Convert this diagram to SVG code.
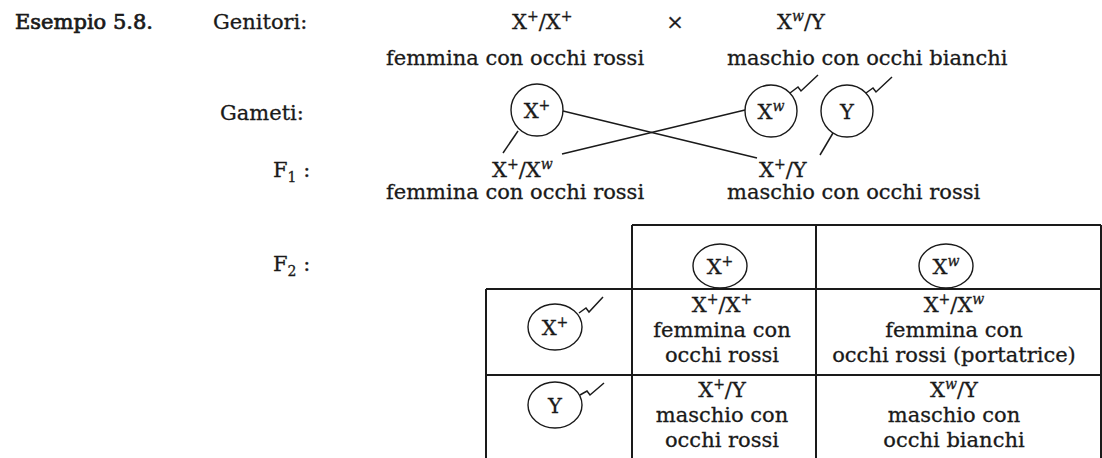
<svg xmlns="http://www.w3.org/2000/svg" width="1102" height="458" viewBox="0 0 1102 458">
<style>
text{font-family:"DejaVu Serif","Liberation Serif",serif;font-size:21px;fill:#1a1a1a;stroke:#1a1a1a;stroke-width:0.3}
.m{text-anchor:middle}
.b{stroke-width:0.7}
.sup{font-size:14px}
.it{font-style:italic}
.sub{font-size:14px}
.c{fill:none;stroke:#1a1a1a;stroke-width:1.4}
.ln{fill:none;stroke:#1a1a1a;stroke-width:1.5}
.tb{fill:none;stroke:#1a1a1a;stroke-width:2}
</style>
<rect width="1102" height="458" fill="#fff"/>
<g id="labels">
<text x="15" y="29" class="b">Esempio 5.8.</text>
<text x="213" y="29">Genitori:</text>
<text x="220" y="120">Gameti:</text>
<text x="273" y="177">F<tspan class="sub" dy="5">1</tspan><tspan dy="-5"> :</tspan></text>
<text x="273" y="271">F<tspan class="sub" dy="5">2</tspan><tspan dy="-5"> :</tspan></text>
</g>
<g id="parent-female">
<text x="512" y="29">X<tspan class="sup" dy="-8">+</tspan><tspan dy="8">/X</tspan><tspan class="sup" dy="-8">+</tspan></text>
<text x="386" y="65">femmina con occhi rossi</text>
</g>
<text id="cross" x="675" y="29" class="m">×</text>
<g id="parent-male">
<text x="777" y="29">X<tspan class="sup it" dy="-8">w</tspan><tspan dy="8">/Y</tspan></text>
<text x="727" y="65">maschio con occhi bianchi</text>
</g>
<g id="gamete-xplus">
<circle class="c" cx="537" cy="110" r="26"/>
<text x="537" y="118" class="m">X<tspan class="sup" dy="-8">+</tspan></text>
</g>
<g id="gamete-xw">
<circle class="c" cx="771" cy="111" r="26"/>
<text x="771" y="119" class="m">X<tspan class="sup it" dy="-8">w</tspan></text>
<path class="ln" d="M790,93 l8,-6 l3,4 l17,-16"/>
</g>
<g id="gamete-y">
<circle class="c" cx="847" cy="111" r="26"/>
<text x="847" y="119" class="m">Y</text>
<path class="ln" d="M866,93 l7,-5 l3,4 l16,-15"/>
</g>
<g id="f1-female">
<text x="492" y="177">X<tspan class="sup" dy="-8">+</tspan><tspan dy="8">/X</tspan><tspan class="sup it" dy="-8">w</tspan></text>
<text x="386" y="199">femmina con occhi rossi</text>
</g>
<g id="f1-male">
<text x="759" y="177">X<tspan class="sup" dy="-8">+</tspan><tspan dy="8">/Y</tspan></text>
<text x="727" y="199">maschio con occhi rossi</text>
</g>
<g id="connectors">
<line class="ln" x1="563" y1="111" x2="757" y2="158"/>
<line class="ln" x1="745" y1="110" x2="562" y2="154"/>
<line class="ln" x1="518" y1="131" x2="503" y2="153"/>
<line class="ln" x1="833" y1="133" x2="820" y2="155"/>
</g>
<g id="punnett">
<path class="tb" d="M632,225 H1101 M632,225 V458 M816,225 V458 M1101,225 V458 M486,289 H1101 M486,289 V458 M486,375 H1101"/>
<g id="h-xplus">
<ellipse class="c" cx="720" cy="266" rx="27" ry="22"/>
<text x="720" y="274" class="m">X<tspan class="sup" dy="-8">+</tspan></text>
</g>
<g id="h-xw">
<ellipse class="c" cx="946" cy="266" rx="27" ry="22"/>
<text x="946" y="274" class="m">X<tspan class="sup it" dy="-8">w</tspan></text>
</g>
<g id="r-xplus">
<ellipse class="c" cx="555" cy="327" rx="27" ry="23"/>
<text x="555" y="335" class="m">X<tspan class="sup" dy="-8">+</tspan></text>
<path class="ln" d="M579,313 l7,-5 l3,4 l14,-15"/>
</g>
<g id="r-y">
<ellipse class="c" cx="555" cy="405" rx="27" ry="23"/>
<text x="555" y="413" class="m">Y</text>
<path class="ln" d="M580,395 l7,-4 l3,4 l14,-12"/>
</g>
<g id="cell-11">
<text x="722" y="312" class="m">X<tspan class="sup" dy="-8">+</tspan><tspan dy="8">/X</tspan><tspan class="sup" dy="-8">+</tspan></text>
<text x="722" y="337" class="m">femmina con</text>
<text x="722" y="362" class="m">occhi rossi</text>
</g>
<g id="cell-12">
<text x="954" y="312" class="m">X<tspan class="sup" dy="-8">+</tspan><tspan dy="8">/X</tspan><tspan class="sup it" dy="-8">w</tspan></text>
<text x="954" y="337" class="m">femmina con</text>
<text x="954" y="362" class="m">occhi rossi (portatrice)</text>
</g>
<g id="cell-21">
<text x="722" y="397" class="m">X<tspan class="sup" dy="-8">+</tspan><tspan dy="8">/Y</tspan></text>
<text x="722" y="422" class="m">maschio con</text>
<text x="722" y="447" class="m">occhi rossi</text>
</g>
<g id="cell-22">
<text x="954" y="397" class="m">X<tspan class="sup it" dy="-8">w</tspan><tspan dy="8">/Y</tspan></text>
<text x="954" y="422" class="m">maschio con</text>
<text x="954" y="447" class="m">occhi bianchi</text>
</g>
</g>
</svg>
